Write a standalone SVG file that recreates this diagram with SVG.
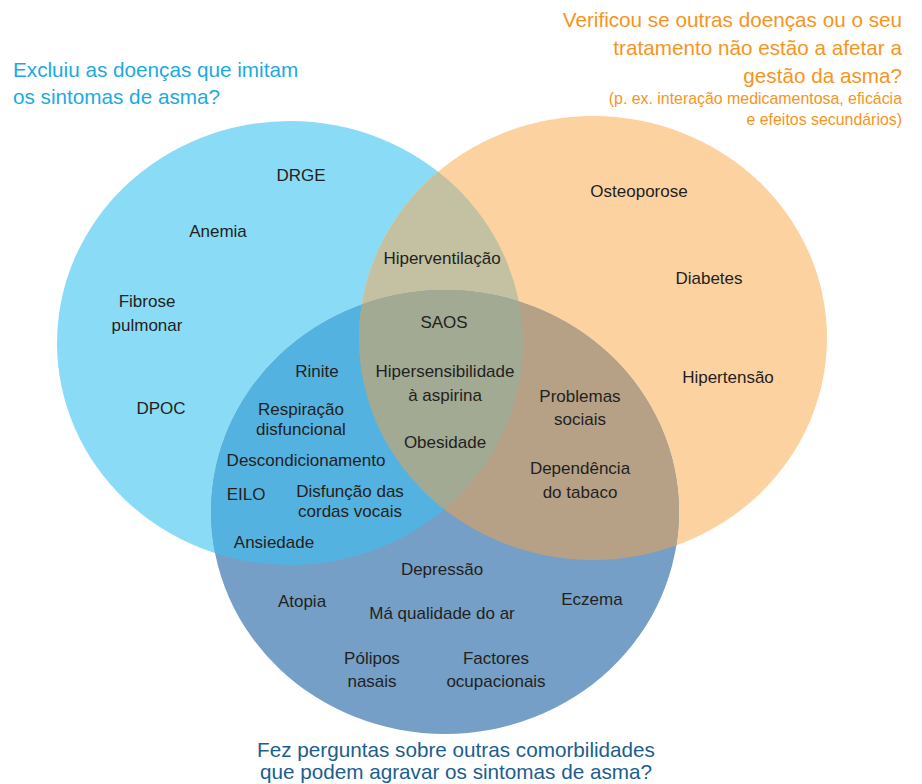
<svg xmlns="http://www.w3.org/2000/svg" width="922" height="784" viewBox="0 0 922 784">
<style>
.t{font-family:"Liberation Sans",Arial,sans-serif;font-size:17px;fill:#231f20;text-anchor:middle}
.h{font-family:"Liberation Sans",Arial,sans-serif;font-size:20.7px}
.hl{fill:#1aaae2}
.hr{fill:#f7941d;text-anchor:end}
.hs{font-size:15.9px}
.hb{fill:#1b5e8f;text-anchor:middle}
</style>
<defs>
<ellipse id="eL" cx="290" cy="343" rx="233" ry="222"/>
<ellipse id="eR" cx="593" cy="338" rx="234" ry="222"/>
<ellipse id="eB" cx="445" cy="512" rx="234" ry="222"/>
<clipPath id="cL"><use href="#eL"/></clipPath>
<clipPath id="cR"><use href="#eR"/></clipPath>
</defs>
<g id="circles">
<use href="#eL" fill="#8adcf6"/>
<use href="#eR" fill="#fcd2a1"/>
<use href="#eB" fill="#759fc6"/>
<use href="#eR" fill="#c4c1a2" clip-path="url(#cL)"/>
<use href="#eB" fill="#54b2e0" clip-path="url(#cL)"/>
<use href="#eB" fill="#b6a187" clip-path="url(#cR)"/>
<g clip-path="url(#cR)"><use href="#eB" fill="#a2aa94" clip-path="url(#cL)"/></g>
</g>
<g id="header-left" class="h hl"><text x="13" y="77">Excluiu as doenças que imitam</text><text x="13" y="104">os sintomas de asma?</text></g>
<g id="header-right" class="h hr">
<text x="902" y="27">Verificou se outras doenças ou o seu</text>
<text x="902" y="55">tratamento não estão a afetar a</text>
<text x="902" y="83">gestão da asma?</text>
<text x="902" y="104" class="hs">(p. ex. interação medicamentosa, eficácia</text>
<text x="902" y="125" class="hs">e efeitos secundários)</text>
</g>
<g id="header-bottom" class="h hb"><text x="456" y="757">Fez perguntas sobre outras comorbilidades</text><text x="456" y="779">que podem agravar os sintomas de asma?</text></g>
<g id="n-drge"><text class="t" x="301" y="181">DRGE</text></g>
<g id="n-anemia"><text class="t" x="218" y="237">Anemia</text></g>
<g id="n-fibrose"><text class="t" x="147" y="307">Fibrose</text><text class="t" x="147" y="331">pulmonar</text></g>
<g id="n-dpoc"><text class="t" x="161" y="414">DPOC</text></g>
<g id="n-hiperventilacao"><text class="t" x="442" y="264">Hiperventilação</text></g>
<g id="n-saos"><text class="t" x="444" y="328">SAOS</text></g>
<g id="n-hipersens"><text class="t" x="445" y="377">Hipersensibilidade</text><text class="t" x="445" y="401">à aspirina</text></g>
<g id="n-obesidade"><text class="t" x="445" y="448">Obesidade</text></g>
<g id="n-rinite"><text class="t" x="317" y="377">Rinite</text></g>
<g id="n-respiracao"><text class="t" x="301" y="415">Respiração</text><text class="t" x="301" y="435">disfuncional</text></g>
<g id="n-descond"><text class="t" x="306" y="466">Descondicionamento</text></g>
<g id="n-eilo"><text class="t" x="246" y="500">EILO</text></g>
<g id="n-disfuncao"><text class="t" x="350" y="497">Disfunção das</text><text class="t" x="350" y="517">cordas vocais</text></g>
<g id="n-ansiedade"><text class="t" x="274" y="548">Ansiedade</text></g>
<g id="n-depressao"><text class="t" x="442" y="575">Depressão</text></g>
<g id="n-atopia"><text class="t" x="302" y="607">Atopia</text></g>
<g id="n-ar"><text class="t" x="442" y="619">Má qualidade do ar</text></g>
<g id="n-polipos"><text class="t" x="372" y="664">Pólipos</text><text class="t" x="372" y="687">nasais</text></g>
<g id="n-factores"><text class="t" x="496" y="664">Factores</text><text class="t" x="496" y="687">ocupacionais</text></g>
<g id="n-eczema"><text class="t" x="592" y="605">Eczema</text></g>
<g id="n-osteoporose"><text class="t" x="639" y="197">Osteoporose</text></g>
<g id="n-diabetes"><text class="t" x="709" y="284">Diabetes</text></g>
<g id="n-hipertensao"><text class="t" x="728" y="383">Hipertensão</text></g>
<g id="n-problemas"><text class="t" x="580" y="402">Problemas</text><text class="t" x="580" y="425">sociais</text></g>
<g id="n-dependencia"><text class="t" x="580" y="474">Dependência</text><text class="t" x="580" y="498">do tabaco</text></g>
</svg>
